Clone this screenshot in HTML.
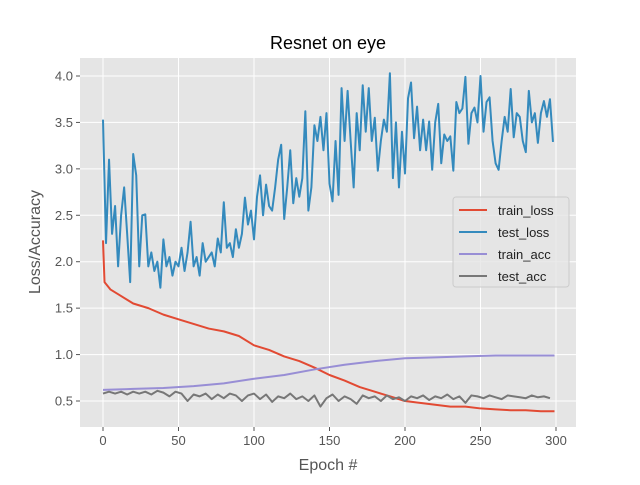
<!DOCTYPE html>
<html><head><meta charset="utf-8"><style>
body{margin:0;background:#fff;}
svg{font-family:"Liberation Sans","DejaVu Sans",sans-serif;}
</style></head><body>
<svg id="chart" width="640" height="480" xmlns="http://www.w3.org/2000/svg">
<rect x="0" y="0" width="640" height="480" fill="#fff"/>
<rect x="80" y="58" width="496" height="369" fill="#E5E5E5"/>
<g id="grid"></g>
<g id="series"></g>
<g id="ticks"></g>
<text x="328" y="49" text-anchor="middle" font-size="18" fill="#000">Resnet on eye</text>
<text x="328" y="470" text-anchor="middle" font-size="16" fill="#555">Epoch #</text>
<text x="40" y="242" text-anchor="middle" font-size="16" fill="#555" transform="rotate(-90 40 242)">Loss/Accuracy</text>
<g>
<rect x="453" y="197" width="116" height="90" rx="3" fill="#E5E5E5" fill-opacity="0.8" stroke="#ccc"/>
<g><line x1="459" y1="210" x2="487" y2="210" stroke="#E24A33" stroke-width="2"/><text x="498" y="215" font-size="13" fill="#222">train_loss</text></g>
<g><line x1="459" y1="232" x2="487" y2="232" stroke="#348ABD" stroke-width="2"/><text x="498" y="237" font-size="13" fill="#222">test_loss</text></g>
<g><line x1="459" y1="254" x2="487" y2="254" stroke="#988ED5" stroke-width="2"/><text x="498" y="259" font-size="13" fill="#222">train_acc</text></g>
<g><line x1="459" y1="276" x2="487" y2="276" stroke="#777777" stroke-width="2"/><text x="498" y="281" font-size="13" fill="#222">test_acc</text></g>
</g>
</svg>
<script>
const xTicks = [0,50,100,150,200,250,300];
const yTicks = [0.5,1.0,1.5,2.0,2.5,3.0,3.5,4.0];
const yTickLabels = ["0.5","1.0","1.5","2.0","2.5","3.0","3.5","4.0"];
const testLossStep = 2;
const testLoss = [3.53,2.2,3.1,2.3,2.6,1.95,2.5,2.8,2.3,1.78,3.16,2.93,1.95,2.5,2.51,1.95,
2.1,1.9,2.0,1.72,2.24,1.95,2.05,1.85,2.0,1.95,2.15,1.9,2.1,2.43,1.95,
2.05,1.85,2.2,2.0,2.05,2.1,1.95,2.25,2.1,2.64,2.15,2.2,2.05,2.35,2.15,
2.3,2.69,2.4,2.55,2.24,2.7,2.93,2.5,2.83,2.6,2.55,2.8,3.1,3.26,2.46,
2.8,3.2,2.63,2.9,2.7,2.9,3.62,2.55,2.8,3.47,3.3,3.56,3.2,3.6,2.84,
2.65,3.3,2.72,3.87,3.3,3.84,3.3,2.8,3.6,3.2,3.9,3.4,3.87,3.3,3.55,
2.98,3.3,3.53,3.4,4.03,2.9,3.5,2.8,3.4,2.95,3.76,3.93,3.33,3.67,3.2,
3.53,3.2,3.51,2.99,3.5,3.7,3.06,3.37,3.3,3.35,2.98,3.72,3.6,3.65,3.99,
3.27,3.6,3.66,3.5,4.0,3.4,3.72,3.77,3.3,3.06,2.99,3.3,3.56,3.4,3.86,
3.34,3.6,3.56,3.3,3.18,3.84,3.5,3.6,3.28,3.6,3.73,3.56,3.75,3.29];
const trainLossEpochs = [0,1,5,10,20,30,40,50,60,70,80,90,100,110,120,130,140,150,160,170,180,190,200,210,220,230,240,250,260,270,280,290,299];
const trainLoss = [2.23,1.78,1.7,1.65,1.55,1.5,1.43,1.38,1.33,1.28,1.25,1.2,1.1,1.05,0.98,0.93,0.86,0.78,0.72,0.65,0.6,0.55,0.5,0.48,0.46,0.44,0.44,0.42,0.41,0.4,0.4,0.39,0.39];
const trainAccEpochs = [0,20,40,60,80,100,120,140,160,180,200,220,240,260,280,299];
const trainAcc = [0.62,0.63,0.64,0.66,0.69,0.74,0.78,0.84,0.89,0.93,0.96,0.97,0.98,0.99,0.99,0.99];
const testAccStep = 4;
const testAcc = [0.58,0.6,0.58,0.6,0.57,0.6,0.58,0.6,0.57,0.61,0.59,0.55,0.6,0.58,0.5,0.57,0.55,0.58,0.52,0.57,0.53,0.58,0.56,0.5,0.56,0.58,0.52,0.57,0.49,0.55,0.53,0.58,0.52,0.55,0.5,0.56,0.44,0.53,0.57,0.5,0.55,0.52,0.47,0.56,0.53,0.55,0.5,0.56,0.52,0.54,0.5,0.55,0.53,0.56,0.51,0.55,0.53,0.57,0.52,0.55,0.48,0.56,0.55,0.53,0.56,0.54,0.52,0.56,0.55,0.54,0.53,0.56,0.54,0.55,0.53];

const NS="http://www.w3.org/2000/svg";
function xs(e){return 103+e*(556-103)/300;}
function ys(v){return 401-(v-0.5)*(401-76)/3.5;}
const grid=document.getElementById('grid'), ticks=document.getElementById('ticks'), series=document.getElementById('series');
function mk(tag,attrs,parent){const el=document.createElementNS(NS,tag);for(const k in attrs)el.setAttribute(k,attrs[k]);parent.appendChild(el);return el;}
xTicks.forEach(t=>{
  const g=mk('line',{x1:xs(t),x2:xs(t),y1:58,y2:427,stroke:'#fff','stroke-width':1},grid);
  
  
  const tk=mk('line',{x1:xs(t),x2:xs(t),y1:427,y2:431,stroke:'#555'},ticks);
  
  
  const tx=mk('text',{x:xs(t),y:445,'text-anchor':'middle','font-size':13,fill:'#555'},ticks);
  tx.textContent=String(t);
  
  
});
yTicks.forEach((t,i)=>{
  const g=mk('line',{x1:80,x2:576,y1:ys(t),y2:ys(t),stroke:'#fff','stroke-width':1},grid);
  
  
  const tk=mk('line',{x1:76,x2:80,y1:ys(t),y2:ys(t),stroke:'#555'},ticks);
  
  
  const tx=mk('text',{x:73,y:ys(t)+4.5,'text-anchor':'end','font-size':13,fill:'#555'},ticks);
  tx.textContent=yTickLabels[i];
  
  
});
function line(epochs,vals,color,name){
  const d=vals.map((v,i)=>(i?'L':'M')+xs(epochs[i]).toFixed(2)+' '+ys(v).toFixed(2)).join(' ');
  const p=mk('path',{d:d,fill:'none',stroke:color,'stroke-width':2,'stroke-linejoin':'round'},series);
  
  
}
line(trainLossEpochs,trainLoss,'#E24A33','train-loss-line');
line(testLoss.map((v,i)=>i*testLossStep),testLoss,'#348ABD','test-loss-line');
line(trainAccEpochs,trainAcc,'#988ED5','train-acc-line');
line(testAcc.map((v,i)=>i*testAccStep),testAcc,'#777777','test-acc-line');
</script>
</body></html>
